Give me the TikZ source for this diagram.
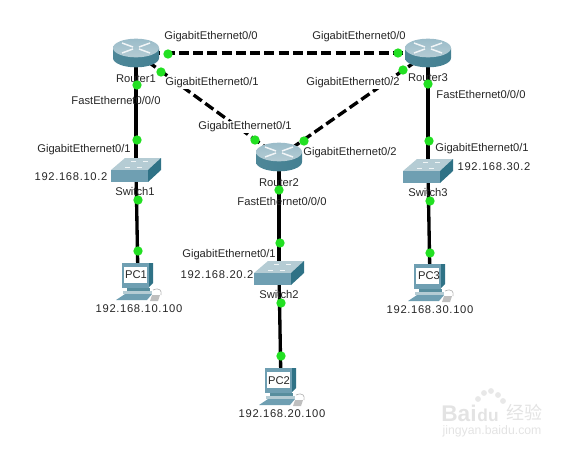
\documentclass[tikz,border=0pt]{standalone}
\usepackage{fontspec}
\setmainfont{Liberation Sans}
\newfontfamily\cjkfont{Noto Sans CJK SC}
\newfontfamily\addrfont[LetterSpace=6]{Liberation Sans}
\usetikzlibrary{backgrounds}
\definecolor{devdark}{HTML}{2F7286}
\definecolor{devmid}{HTML}{6F9FB2}
\definecolor{devlight}{HTML}{B5CCD4}
\definecolor{portgreen}{HTML}{22E022}
\tikzset{
  router/.pic = {
    \shade[left color=devdark!85, middle color=devlight!60!white, right color=devdark!90]
      (-23,-5) -- (-23,5) arc[start angle=180, end angle=360, x radius=17.25pt, y radius=7pt]
      -- (23,-5) -- cycle;
    \shade[top color=devmid!70, bottom color=devlight] (0,-5) ellipse[x radius=17.25pt, y radius=7pt];
    \draw[white!90!devmid, line width=1.1pt]
      (-14,-10) -- (-3,-6) (14,-10) -- (3,-6) (-14,0) -- (-3,-4) (14,0) -- (3,-4);
  },
  switchbox/.pic = {
    \fill[devlight] (-25,0) -- (-11,-12) -- (25,-12) -- (12,0) -- cycle;
    \fill[devmid] (-25,0) rectangle (12,12);
    \fill[devdark] (12,0) -- (25,-12) -- (25,0) -- (12,12) -- cycle;
    \draw[white!80!devlight, line width=.6pt]
      (-11,-3) -- (-6,-3) (1,-3) -- (6,-3) (-5,-9) -- (0,-9) (7,-9) -- (12,-9);
  },
  pcbox/.pic = {
    \fill[devdark] (10,-18) -- (15,-18) -- (15,2) -- (10,7) -- cycle;
    \fill[devmid] (-16,-18) rectangle (11,7);
    \fill[white] (-14,-14) rectangle (9,2);
    \fill[devdark!80] (-11,7) rectangle (12,10);
    \fill[devlight] (-15,10) rectangle (14,13);
    \fill[devmid] (-13,13) -- (14,13) -- (9,19) -- (-22,19) -- cycle;
    \draw[black!30, line width=.5pt] (15,9) .. controls (22,6) and (24,10) .. (23,14);
    \fill[black!25] (14,14) -- (22,14) -- (20,20) -- (12,20) -- cycle;
  },
  device/.style = {minimum size=1pt, inner sep=0pt},
  port/.style = {circle, fill=portgreen, minimum size=7pt, inner sep=0pt},
  lbl/.style  = {font=\fontsize{8.4}{10}\selectfont, text=black!85, inner sep=.5pt},
  lblw/.style = {lbl, fill=white},
  addr/.style = {lbl, font=\fontsize{8.4}{10}\selectfont\addrfont},
  wan/.style  = {line width=2.5pt, dash pattern=on 7.5pt off 3.2pt},
  lan/.style  = {line width=2.5pt},
  wmark/.style = {text=black!11, inner sep=0pt},
  paw/.style = {fill=black!9}
}
\begin{document}
\begin{tikzpicture}[x=.75pt, y=-.75pt]
  \useasboundingbox (0,0) rectangle (575,450);

  \foreach \id/\x/\y in {r1/136/53, r2/279/157, r3/428/53}{
    \node[device] (\id) at (\x,\y) {};
    \pic at (\id.center) {router};
  }
  \foreach \id/\x/\y in {s1/136/170, s2/279/273, s3/428/171}{
    \node[device] (\id) at (\x,\y) {};
    \pic at (\id.center) {switchbox};
  }
  \foreach \id/\x/\y in {pc1/138/281, pc2/281/386, pc3/430/282}{
    \node[device] (\id) at (\x,\y) {};
    \pic at (\id.center) {pcbox};
  }

  \begin{scope}[on background layer]
    \draw[wan] (r1.center) -- (r3.center);
    \draw[wan] (r1.center) -- (r2.center);
    \draw[wan] (r3.center) -- (r2.center);
    \draw[lan] (r1.center) -- (s1.center);
    \draw[lan] (r2.center) -- (s2.center);
    \draw[lan] (r3.center) -- (s3.center);
    \draw[lan] (s1.center) -- (pc1.center);
    \draw[lan] (s2.center) -- (pc2.center);
    \draw[lan] (s3.center) -- (pc3.center);
  \end{scope}

  \node[lbl]  (n1) at (136,79)  {Router1};
  \node[lbl]  (n2) at (279,183) {Router2};
  \node[lbl]  (n3) at (428,78)  {Router3};
  \node[lbl]  (n4) at (135,191) {Switch1};
  \node[lbl]  (n5) at (279,294) {Switch2};
  \node[lbl]  (n6) at (428,192) {Switch3};
  \node[lbl]  (n7) at (136,275) {PC1};
  \node[lbl]  (n8) at (279,381) {PC2};
  \node[lbl]  (n9) at (429,276) {PC3};

  \node[lbl]  (g1) at (211,37)  {GigabitEthernet0/0};
  \node[lbl]  (g2) at (359,37)  {GigabitEthernet0/0};
  \node[lblw] (g3) at (212,83)  {GigabitEthernet0/1};
  \node[lblw] (g4) at (245,127) {GigabitEthernet0/1};
  \node[lblw] (g5) at (353,83)  {GigabitEthernet0/2};
  \node[lbl]  (g6) at (350,153) {GigabitEthernet0/2};
  \node[lbl]  (g7) at (84,150)  {GigabitEthernet0/1};
  \node[lbl]  (g8) at (229,255) {GigabitEthernet0/1};
  \node[lbl]  (g9) at (482,149) {GigabitEthernet0/1};

  \node[lbl]  (f1) at (116,100) {FastEthernet0/0/0};
  \node[lbl]  (f2) at (282,201) {FastEthernet0/0/0};
  \node[lbl]  (f3) at (481,94)  {FastEthernet0/0/0};

  \node[addr] (a1) at (71,177)  {192.168.10.2};
  \node[addr] (a2) at (217,275) {192.168.20.2};
  \node[addr] (a3) at (494,167) {192.168.30.2};
  \node[addr] (a4) at (139,309) {192.168.10.100};
  \node[addr] (a5) at (282,414) {192.168.20.100};
  \node[addr] (a6) at (430,310) {192.168.30.100};

  \foreach \id/\x/\y in {p1/168/54, p2/161/72, p3/137/85, p4/137/140, p5/138/200, p6/138/251,
                         p7/398/53, p8/403/70, p9/428/84, p10/429/141, p11/430/201, p12/430/253,
                         p13/255/140, p14/304/141, p15/279/190, p16/280/243, p17/281/303, p18/281/356}{
    \node[port] (\id) at (\x,\y) {};
  }

  \node[wmark, font=\fontsize{17}{20}\selectfont\bfseries] (wm1) at (459,413) {Bai};
  \node[wmark, font=\fontsize{13}{16}\selectfont\bfseries] (wm2) at (488,415) {du};
  \node[wmark, font=\fontsize{13.5}{16}\selectfont\cjkfont] (wm3) at (524,413) {经验};
  \node[wmark, font=\fontsize{9.2}{11}\selectfont] (wm4) at (492,431) {jingyan.baidu.com};
  \foreach \x/\y in {478/399, 484/393, 491/391, 498/395, 503/401}{
    \fill[paw] (\x,\y) circle[radius=2.2pt];
  }
\end{tikzpicture}
\end{document}
